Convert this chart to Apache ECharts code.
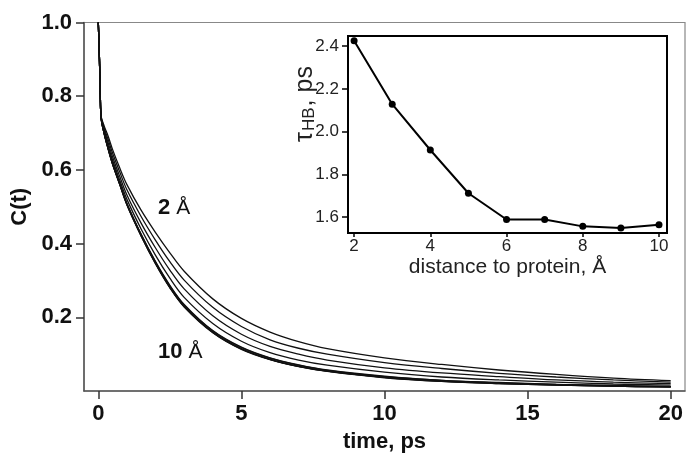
<!DOCTYPE html>
<html>
<head>
<meta charset="utf-8">
<script src="https://cdn.jsdelivr.net/npm/echarts@6/dist/echarts.min.js"></script>
<style>html,body{margin:0;padding:0;background:#fff}#c{width:686px;height:458px}</style>
</head>
<body>
<div id="c"></div>
<script>
// time axis samples (ps)
const times = [0, 0.04, 0.07, 0.1, 0.2, 0.35, 0.5, 0.75, 1, 1.5, 2, 2.5, 3, 4, 5, 6, 7, 8, 10, 12, 14, 16, 18, 20];
// C(t) for each distance to protein
const c2A  = [1, 0.9, 0.8, 0.745, 0.72, 0.69, 0.655, 0.605, 0.56, 0.49, 0.43, 0.375, 0.325, 0.25, 0.197, 0.16, 0.134, 0.115, 0.09, 0.072, 0.057, 0.045, 0.035, 0.028];
const c3A  = [1, 0.9, 0.8, 0.744, 0.715, 0.681, 0.645, 0.594, 0.546, 0.473, 0.409, 0.351, 0.301, 0.227, 0.175, 0.139, 0.116, 0.100, 0.077, 0.061, 0.048, 0.038, 0.030, 0.024];
const c4A  = [1, 0.9, 0.8, 0.742, 0.71, 0.672, 0.635, 0.582, 0.532, 0.455, 0.388, 0.328, 0.277, 0.204, 0.154, 0.121, 0.100, 0.084, 0.063, 0.049, 0.039, 0.030, 0.024, 0.020];
const c5A  = [1, 0.9, 0.8, 0.741, 0.705, 0.664, 0.626, 0.572, 0.52, 0.439, 0.368, 0.306, 0.254, 0.183, 0.135, 0.104, 0.084, 0.070, 0.051, 0.038, 0.030, 0.024, 0.019, 0.016];
const c6A  = [1, 0.9, 0.8, 0.74, 0.701, 0.657, 0.618, 0.563, 0.509, 0.425, 0.351, 0.287, 0.235, 0.164, 0.119, 0.090, 0.071, 0.057, 0.040, 0.029, 0.023, 0.018, 0.015, 0.012];
const c7A  = [1, 0.9, 0.8, 0.74, 0.701, 0.657, 0.617, 0.562, 0.508, 0.424, 0.35, 0.285, 0.233, 0.163, 0.118, 0.089, 0.070, 0.056, 0.039, 0.029, 0.022, 0.018, 0.014, 0.012];
const c8A  = [1, 0.9, 0.8, 0.74, 0.70, 0.656, 0.616, 0.561, 0.506, 0.421, 0.347, 0.282, 0.23, 0.160, 0.115, 0.086, 0.067, 0.054, 0.037, 0.027, 0.021, 0.017, 0.013, 0.011];
const c9A  = [1, 0.9, 0.8, 0.74, 0.70, 0.655, 0.615, 0.56, 0.505, 0.42, 0.345, 0.28, 0.228, 0.158, 0.113, 0.085, 0.066, 0.053, 0.036, 0.026, 0.020, 0.016, 0.013, 0.011];
const c10A = [1, 0.9, 0.8, 0.74, 0.70, 0.655, 0.615, 0.56, 0.506, 0.421, 0.346, 0.281, 0.229, 0.159, 0.114, 0.086, 0.067, 0.054, 0.037, 0.026, 0.020, 0.016, 0.013, 0.011];
const curves = [c2A, c3A, c4A, c5A, c6A, c7A, c8A, c9A, c10A];
const curveNames = ['2 Å', '3 Å', '4 Å', '5 Å', '6 Å', '7 Å', '8 Å', '9 Å', '10 Å'];

// inset: hydrogen-bond lifetime vs distance
const distances = [2, 3, 4, 5, 6, 7, 8, 9, 10];
const tauHB = [2.425, 2.128, 1.914, 1.712, 1.589, 1.589, 1.557, 1.549, 1.565];

// tick labels
const mainXTicks = [0, 5, 10, 15, 20];
const mainYTicks = [0.2, 0.4, 0.6, 0.8, 1.0];
const insetXTicks = [2, 4, 6, 8, 10];
const insetYTicks = [1.6, 1.8, 2.0, 2.2, 2.4];

const FONT = "'Liberation Sans', Arial, sans-serif";
const chart = echarts.init(document.getElementById('c'), null, {renderer: 'canvas'});

const series = curves.map((vals, i) => ({
  type: 'line',
  name: curveNames[i],
  xAxisIndex: 0, yAxisIndex: 0,
  data: times.map((t, k) => [t, vals[k]]),
  showSymbol: false,
  smooth: 0.35,
  lineStyle: {color: '#111', width: 1.3},
  z: 3,
  silent: true
}));
series.push({
  type: 'line',
  name: 'tau',
  xAxisIndex: 1, yAxisIndex: 1,
  data: distances.map((d, k) => [d, tauHB[k]]),
  symbol: 'circle',
  symbolSize: 7,
  itemStyle: {color: '#000'},
  lineStyle: {color: '#000', width: 2},
  z: 10,
  silent: true
});

chart.setOption({
  animation: false,
  backgroundColor: '#fff',
  grid: [
    {left: 84, top: 22.5, width: 601, height: 369, show: true, borderColor: '#888', borderWidth: 1.2, backgroundColor: 'transparent'},
    {left: 348, top: 36, width: 319, height: 197, show: true, borderColor: '#000', borderWidth: 2, backgroundColor: '#fff', z: 5}
  ],
  xAxis: [
    {
      type: 'value', gridIndex: 0, min: -0.5, max: 20.5,
      name: 'time, ps', nameLocation: 'middle', nameGap: 40,
      nameTextStyle: {fontFamily: FONT, fontWeight: 'bold', fontSize: 22, color: '#111'},
      axisLine: {show: true, onZero: false, lineStyle: {color: '#555', width: 1.5}},
      axisTick: {show: true, inside: false, length: 8, customValues: mainXTicks, lineStyle: {color: '#333', width: 1.5}},
      axisLabel: {customValues: mainXTicks, margin: 12, fontFamily: FONT, fontWeight: 'bold', fontSize: 22, color: '#111'},
      splitLine: {show: false}
    },
    {
      type: 'value', gridIndex: 1, min: 1.84, max: 10.21, z: 6,
      name: 'distance to protein, Å', nameLocation: 'middle', nameGap: 24,
      nameTextStyle: {fontFamily: FONT, fontSize: 21, color: '#222'},
      axisLine: {show: true, onZero: false, lineStyle: {color: '#000', width: 2}},
      axisTick: {show: true, length: 4, customValues: insetXTicks, lineStyle: {color: '#000', width: 1.5}},
      axisLabel: {customValues: insetXTicks, margin: 5, fontFamily: FONT, fontSize: 17, color: '#222'},
      splitLine: {show: false}
    }
  ],
  yAxis: [
    {
      type: 'value', gridIndex: 0, min: 0, max: 1.0,
      name: 'C(t)', nameLocation: 'middle', nameGap: 47,
      nameTextStyle: {fontFamily: FONT, fontWeight: 'bold', fontSize: 22, color: '#111'},
      axisLine: {show: true, onZero: false, lineStyle: {color: '#555', width: 1.5}},
      axisTick: {show: true, length: 8, customValues: mainYTicks, lineStyle: {color: '#333', width: 1.5}},
      axisLabel: {customValues: mainYTicks, margin: 12, fontFamily: FONT, fontWeight: 'bold', fontSize: 22, color: '#111',
        formatter: v => v.toFixed(1)},
      splitLine: {show: false}
    },
    {
      type: 'value', gridIndex: 1, min: 1.526, max: 2.447, z: 6,
      axisLine: {show: true, onZero: false, lineStyle: {color: '#000', width: 2}},
      axisTick: {show: true, length: 6, customValues: insetYTicks, lineStyle: {color: '#000', width: 1.5}},
      axisLabel: {customValues: insetYTicks, margin: 9, fontFamily: FONT, fontSize: 17, color: '#222',
        formatter: v => v.toFixed(1)},
      splitLine: {show: false}
    }
  ],
  graphic: [
    {
      type: 'text', x: 305, y: 104, rotation: Math.PI / 2, z: 20,
      style: {
        text: '{t|τ}{s|HB}{t|, ps}',
        align: 'center', verticalAlign: 'middle',
        fill: '#222',
        rich: {
          t: {fontFamily: FONT, fontSize: 25, fill: '#222', verticalAlign: 'bottom'},
          s: {fontFamily: FONT, fontSize: 17, fill: '#222', verticalAlign: 'bottom', padding: [0, 1, 0, 1]}
        }
      }
    },
    {
      type: 'text', x: 158, y: 219, z: 20,
      style: {
        text: '{b|2 }{r|Å}', verticalAlign: 'bottom',
        rich: {
          b: {fontFamily: FONT, fontWeight: 'bold', fontSize: 22, fill: '#111'},
          r: {fontFamily: FONT, fontSize: 21, fill: '#111'}
        }
      }
    },
    {
      type: 'text', x: 158, y: 363, z: 20,
      style: {
        text: '{b|10 }{r|Å}', verticalAlign: 'bottom',
        rich: {
          b: {fontFamily: FONT, fontWeight: 'bold', fontSize: 22, fill: '#111'},
          r: {fontFamily: FONT, fontSize: 21, fill: '#111'}
        }
      }
    }
  ],
  series: series
});
</script>
</body>
</html>
